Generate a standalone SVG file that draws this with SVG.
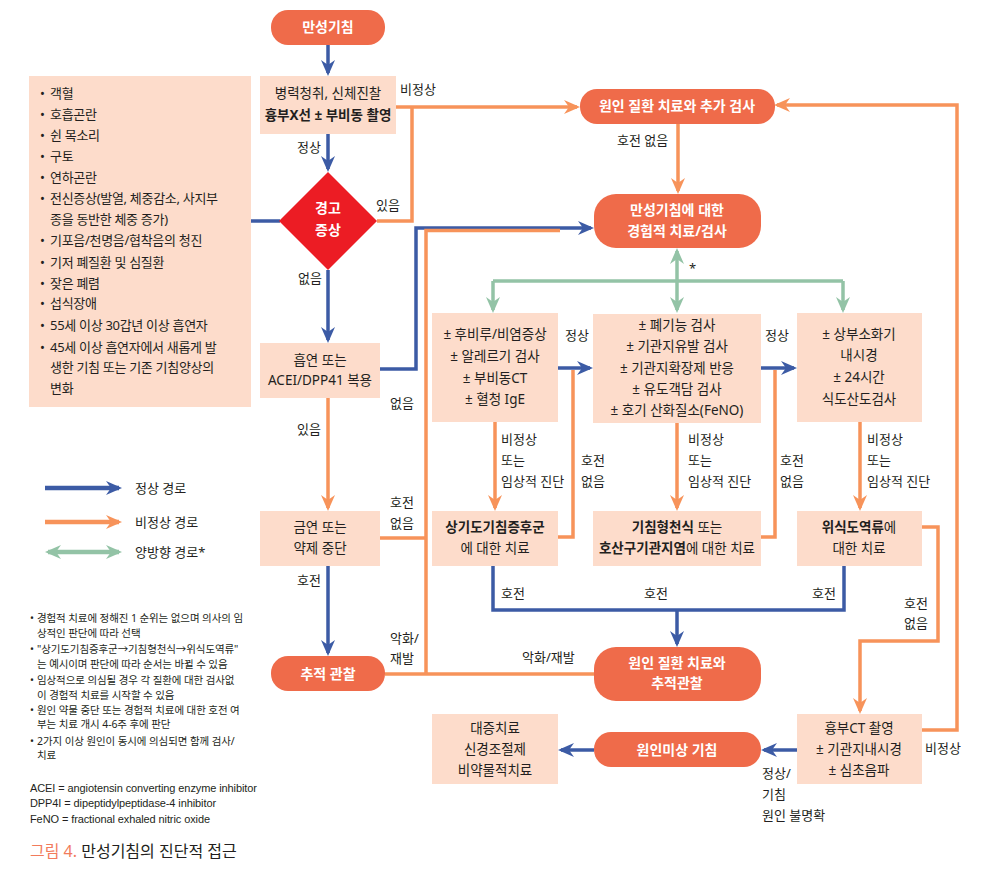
<svg xmlns="http://www.w3.org/2000/svg" width="981" height="872" viewBox="0 0 981 872">
<style>
.t{font-family:"Noto Sans","Noto Sans CJK KR",sans-serif;font-size:13px;fill:#231f20}
.bx{font-size:13.5px}
.c{text-anchor:middle}
.w{fill:#fff;font-weight:bold;font-size:14px}
.bd{font-weight:bold}
.pe{fill:#fddccb}
.co{fill:#ef6b4a}
.ls{letter-spacing:-0.3px}
.lb{fill:none;stroke:#3c5ba5;stroke-width:3.5}
.lo{fill:none;stroke:#f7935a;stroke-width:3.5}
.lg{fill:none;stroke:#93c3a6;stroke-width:3.5}
.nt{font-family:"Noto Sans","Noto Sans CJK KR",sans-serif;font-size:10.5px;fill:#231f20;letter-spacing:-0.1px}
.gl{font-family:"Liberation Sans",sans-serif;font-size:11px;fill:#231f20;letter-spacing:-0.1px}
</style>
<defs>
<marker id="ab" markerUnits="userSpaceOnUse" markerWidth="16" markerHeight="14" refX="13" refY="7" orient="auto"><path d="M0,0 L16,7 L0,14 L5,7 Z" fill="#3c5ba5"/></marker>
<marker id="ao" markerUnits="userSpaceOnUse" markerWidth="16" markerHeight="14" refX="13" refY="7" orient="auto"><path d="M0,0 L16,7 L0,14 L5,7 Z" fill="#f7935a"/></marker>
<marker id="ag" markerUnits="userSpaceOnUse" markerWidth="16" markerHeight="14" refX="13" refY="7" orient="auto-start-reverse"><path d="M0,0 L16,7 L0,14 L5,7 Z" fill="#93c3a6"/></marker>
</defs>
<rect width="981" height="872" fill="#fff"/>

<g id="connectors">
<!-- blue -->
<path class="lb" d="M328 45 V73" marker-end="url(#ab)"/>
<path class="lb" d="M328 134 V169" marker-end="url(#ab)"/>
<path class="lb" d="M251 221 H280"/>
<path class="lb" d="M328 270 V340" marker-end="url(#ab)"/>
<path class="lb" d="M380 369 H416 V228 H591" marker-end="url(#ab)"/>
<path class="lb" d="M328 566 V653" marker-end="url(#ab)"/>
<path class="lb" d="M558 368 H590" marker-end="url(#ab)"/>
<path class="lb" d="M761 368 H794" marker-end="url(#ab)"/>
<path class="lb" d="M493 566 V610 H844 V566"/>
<path class="lb" d="M677 610 V644" marker-end="url(#ab)"/>
<path class="lb" d="M797 750 H764" marker-end="url(#ab)"/>
<path class="lb" d="M594 750 H561" marker-end="url(#ab)"/>
<!-- orange -->
<path class="lo" d="M396 107 H577" marker-end="url(#ao)"/>
<path class="lo" d="M377 221 H412 V107"/>
<path class="lo" d="M678 124 V191" marker-end="url(#ao)"/>
<path class="lo" d="M328 398 V508" marker-end="url(#ao)"/>
<path class="lo" d="M380 538 H426"/>
<path class="lo" d="M594 674 H385"/>
<path class="lo" d="M426 674 V230.5 H560"/>
<path class="lo" d="M558 537 H573 V370"/>
<path class="lo" d="M761 537 H775 V370"/>
<path class="lo" d="M495 422 V508" marker-end="url(#ao)"/>
<path class="lo" d="M677 423 V508" marker-end="url(#ao)"/>
<path class="lo" d="M860 422 V508" marker-end="url(#ao)"/>
<path class="lo" d="M922 527 H938 V641 H860 V711" marker-end="url(#ao)"/>
<path class="lo" d="M922 730 H957 V105 H777" marker-end="url(#ao)"/>
<!-- green -->
<path class="lg" d="M493 281 H843"/>
<path class="lg" d="M493 281 V310" marker-end="url(#ag)"/>
<path class="lg" d="M843 281 V310" marker-end="url(#ag)"/>
<path class="lg" d="M677 251 V310" marker-start="url(#ag)" marker-end="url(#ag)"/>
</g>

<g id="start">
<rect class="co" x="271" y="10" width="114" height="35" rx="17"/>
<text class="t c w" x="328" y="32">만성기침</text>
</g>

<g id="history">
<rect class="pe" x="260" y="76" width="136" height="58"/>
<text class="t bx c" x="328" y="98">병력청취, 신체진찰</text>
<text class="t bx c bd" x="328" y="120">흉부X선 ± 부비동 촬영</text>
</g>

<g id="redflags-list">
<rect class="pe" x="29" y="76" width="222" height="331"/>
<g class="t ls">
<text x="40" y="98">• <tspan x="50">객혈</tspan></text>
<text x="40" y="119">• <tspan x="50">호흡곤란</tspan></text>
<text x="40" y="140">• <tspan x="50">쉰 목소리</tspan></text>
<text x="40" y="161">• <tspan x="50">구토</tspan></text>
<text x="40" y="182">• <tspan x="50">연하곤란</tspan></text>
<text x="40" y="203">• <tspan x="50">전신증상(발열, 체중감소, 사지부</tspan></text>
<text x="50" y="224">종을 동반한 체중 증가)</text>
<text x="40" y="245">• <tspan x="50">기포음/천명음/협착음의 청진</tspan></text>
<text x="40" y="267">• <tspan x="50">기저 폐질환 및 심질환</tspan></text>
<text x="40" y="288">• <tspan x="50">잦은 폐렴</tspan></text>
<text x="40" y="308">• <tspan x="50">섭식장애</tspan></text>
<text x="40" y="330">• <tspan x="50">55세 이상 30갑년 이상 흡연자</tspan></text>
<text x="40" y="352">• <tspan x="50">45세 이상 흡연자에서 새롭게 발</tspan></text>
<text x="50" y="372">생한 기침 또는 기존 기침양상의</text>
<text x="50" y="393">변화</text>
</g>
</g>

<g id="redflag">
<polygon points="328,172 377,221 328,270 279,221" fill="#ec1c24"/>
<text class="t c w" x="328" y="213">경고</text>
<text class="t c w" x="328" y="235">증상</text>
</g>

<g id="smoking">
<rect class="pe" x="260" y="343" width="120" height="55"/>
<text class="t bx c" x="320" y="365">흡연 또는</text>
<text class="t bx c" x="320" y="385">ACEI/DPP41 복용</text>
</g>

<g id="quit">
<rect class="pe" x="260" y="511" width="120" height="55"/>
<text class="t bx c" x="320" y="532">금연 또는</text>
<text class="t bx c" x="320" y="553">약제 중단</text>
</g>

<g id="followup">
<rect class="co" x="271" y="656" width="114" height="35" rx="17"/>
<text class="t c w" x="328" y="679">추적 관찰</text>
</g>

<g id="cause-treat">
<rect class="co" x="580" y="89" width="195" height="35" rx="17"/>
<text class="t c w" x="677" y="111">원인 질환 치료와 추가 검사</text>
</g>

<g id="empiric">
<rect class="co" x="594" y="194" width="167" height="54" rx="22"/>
<text class="t c w" x="677" y="215">만성기침에 대한</text>
<text class="t c w" x="677" y="236">경험적 치료/검사</text>
</g>

<g id="uacs-test">
<rect class="pe" x="432" y="313" width="126" height="109"/>
<text class="t bx c" x="495" y="339">± 후비루/비염증상</text>
<text class="t bx c" x="495" y="361">± 알레르기 검사</text>
<text class="t bx c" x="495" y="383">± 부비동CT</text>
<text class="t bx c" x="495" y="404">± 혈청 IgE</text>
</g>

<g id="asthma-test">
<rect class="pe" x="593" y="314" width="168" height="109"/>
<text class="t bx c" x="677" y="330">± 폐기능 검사</text>
<text class="t bx c" x="677" y="351">± 기관지유발 검사</text>
<text class="t bx c" x="677" y="373">± 기관지확장제 반응</text>
<text class="t bx c" x="677" y="394">± 유도객담 검사</text>
<text class="t bx c" x="677" y="415">± 호기 산화질소(FeNO)</text>
</g>

<g id="gerd-test">
<rect class="pe" x="797" y="313" width="125" height="109"/>
<text class="t bx c" x="859" y="339">± 상부소화기</text>
<text class="t bx c" x="859" y="360">내시경</text>
<text class="t bx c" x="859" y="382">± 24시간</text>
<text class="t bx c" x="859" y="404">식도산도검사</text>
</g>

<g id="uacs-treat">
<rect class="pe" x="432" y="511" width="126" height="55"/>
<text class="t bx c bd" x="495" y="532">상기도기침증후군</text>
<text class="t bx c" x="495" y="553">에 대한 치료</text>
</g>

<g id="asthma-treat">
<rect class="pe" x="593" y="511" width="168" height="55"/>
<text class="t bx c" x="677" y="532"><tspan class="bd">기침형천식</tspan> 또는</text>
<text class="t bx c" x="677" y="553"><tspan class="bd">호산구기관지염</tspan>에 대한 치료</text>
</g>

<g id="gerd-treat">
<rect class="pe" x="797" y="511" width="125" height="55"/>
<text class="t bx c" x="859" y="532"><tspan class="bd">위식도역류</tspan>에</text>
<text class="t bx c" x="859" y="553">대한 치료</text>
</g>

<g id="cause-follow">
<rect class="co" x="594" y="647" width="167" height="54" rx="22"/>
<text class="t c w" x="677" y="668">원인 질환 치료와</text>
<text class="t c w" x="677" y="688">추적관찰</text>
</g>

<g id="chest-ct">
<rect class="pe" x="797" y="714" width="125" height="70"/>
<text class="t bx c" x="859" y="733">흉부CT 촬영</text>
<text class="t bx c" x="859" y="754">± 기관지내시경</text>
<text class="t bx c" x="859" y="775">± 심초음파</text>
</g>

<g id="unexplained">
<rect class="co" x="594" y="732" width="167" height="35" rx="17"/>
<text class="t c w" x="677" y="755">원인미상 기침</text>
</g>

<g id="symptomatic">
<rect class="pe" x="432" y="714" width="126" height="70"/>
<text class="t bx c" x="495" y="733">대증치료</text>
<text class="t bx c" x="495" y="754">신경조절제</text>
<text class="t bx c" x="495" y="775">비약물적치료</text>
</g>

<g id="labels" class="t">
<text x="400" y="94">비정상</text>
<text x="297" y="152">정상</text>
<text x="376" y="210">있음</text>
<text x="298" y="283">없음</text>
<text x="617" y="145">호전 없음</text>
<text x="689" y="273">*</text>
<text x="390" y="408">없음</text>
<text x="297" y="434">있음</text>
<text x="390" y="507">호전</text>
<text x="390" y="528">없음</text>
<text x="297" y="585">호전</text>
<text x="390" y="643">악화/</text>
<text x="390" y="663">재발</text>
<text x="565" y="340">정상</text>
<text x="765" y="340">정상</text>
<text x="501" y="444">비정상</text>
<text x="501" y="465">또는</text>
<text x="501" y="486">임상적 진단</text>
<text x="688" y="444">비정상</text>
<text x="688" y="465">또는</text>
<text x="688" y="486">임상적 진단</text>
<text x="867" y="444">비정상</text>
<text x="867" y="465">또는</text>
<text x="867" y="486">임상적 진단</text>
<text x="581" y="465">호전</text>
<text x="581" y="486">없음</text>
<text x="780" y="465">호전</text>
<text x="780" y="486">없음</text>
<text x="501" y="598">호전</text>
<text x="644" y="598">호전</text>
<text x="812" y="598">호전</text>
<text x="522" y="662">악화/재발</text>
<text x="904" y="608">호전</text>
<text x="904" y="628">없음</text>
<text x="925" y="753">비정상</text>
<text x="762" y="778">정상/</text>
<text x="762" y="799">기침</text>
<text x="762" y="820">원인 불명확</text>
</g>

<g id="legend">
<path d="M45 488 H119" stroke="#3c5ba5" stroke-width="4.5" fill="none" marker-end="url(#ab)"/>
<path d="M45 522 H119" stroke="#f7935a" stroke-width="4.5" fill="none" marker-end="url(#ao)"/>
<path d="M48 552 H119" stroke="#93c3a6" stroke-width="4.5" fill="none" marker-start="url(#ag)" marker-end="url(#ag)"/>
<text class="t" x="135" y="493">정상 경로</text>
<text class="t" x="135" y="527">비정상 경로</text>
<text class="t" x="135" y="557">양방향 경로*</text>
</g>

<g id="notes">
<text class="nt" x="30" y="622">• <tspan x="37">경험적 치료에 정해진 1 순위는 없으며 의사의 임</tspan></text>
<text class="nt" x="37" y="637">상적인 판단에 따라 선택</text>
<text class="nt" x="30" y="653">• <tspan x="37">"상기도기침증후군→기침형천식→위식도역류"</tspan></text>
<text class="nt" x="37" y="668">는 예시이며 판단에 따라 순서는 바뀔 수 있음</text>
<text class="nt" x="30" y="684">• <tspan x="37">임상적으로 의심될 경우 각 질환에 대한 검사없</tspan></text>
<text class="nt" x="37" y="699">이 경험적 치료를 시작할 수 있음</text>
<text class="nt" x="30" y="714">• <tspan x="37">원인 약물 중단 또는 경험적 치료에 대한 호전 여</tspan></text>
<text class="nt" x="37" y="728">부는 치료 개시 4-6주 후에 판단</text>
<text class="nt" x="30" y="745">• <tspan x="37">2가지 이상 원인이 동시에 의심되면 함께 검사/</tspan></text>
<text class="nt" x="37" y="759">치료</text>
<text class="gl" x="30" y="792">ACEI = angiotensin converting enzyme inhibitor</text>
<text class="gl" x="30" y="807">DPP4I = dipeptidylpeptidase-4 inhibitor</text>
<text class="gl" x="30" y="823">FeNO = fractional exhaled nitric oxide</text>
<text class="t" x="30" y="857" style="font-size:16px"><tspan fill="#f27b5c">그림 4.</tspan> 만성기침의 진단적 접근</text>
</g>
</svg>
